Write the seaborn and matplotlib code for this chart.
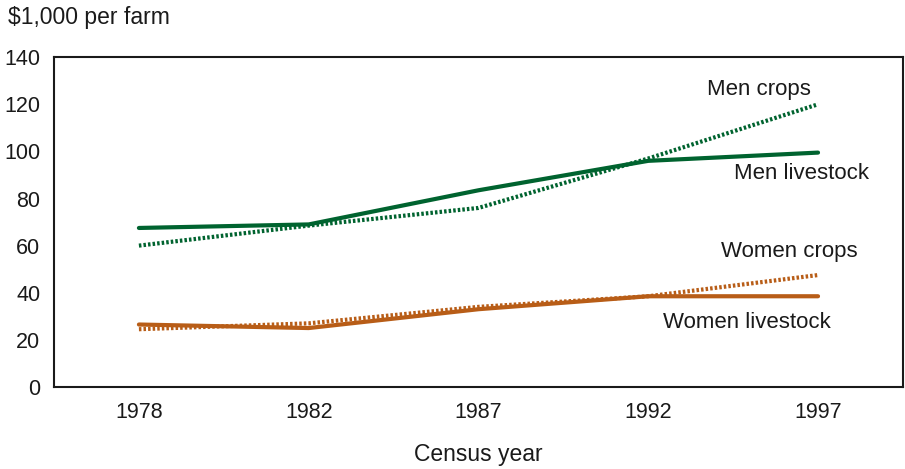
import matplotlib
matplotlib.use("Agg")
import matplotlib.pyplot as plt
import numpy as np
import pandas as pd
import seaborn as sns

# Data ($1,000 per farm)
years = ["1978", "1982", "1987", "1992", "1997"]
men_livestock = [67.5, 69, 83.5, 96, 99.5]
men_crops = [60, 68.5, 76, 97, 120]
women_crops = [24.5, 27, 34, 38.5, 47.5]
women_livestock = [26.5, 25, 33, 38.5, 38.5]

green = "#00632f"
orange = "#b85d17"


def main():
    sns.set_theme(style="white")
    plt.rcParams["font.family"] = ["Liberation Sans", "DejaVu Sans"]

    pos = np.arange(len(years))
    df = pd.DataFrame({
        "pos": pos,
        "men_livestock": men_livestock,
        "men_crops": men_crops,
        "women_crops": women_crops,
        "women_livestock": women_livestock,
    })

    fig = plt.figure(figsize=(9.05, 4.69), dpi=100)
    ax = fig.add_axes([0.0597, 0.175, 0.938, 0.703])

    dots = (0, (0.6, 0.5))
    sns.lineplot(data=df, x="pos", y="men_livestock", color=green, linewidth=3, ax=ax)
    sns.lineplot(data=df, x="pos", y="men_crops", color=green, linewidth=3,
                 linestyle=dots, ax=ax)
    sns.lineplot(data=df, x="pos", y="women_crops", color=orange, linewidth=3,
                 linestyle=dots, ax=ax)
    sns.lineplot(data=df, x="pos", y="women_livestock", color=orange, linewidth=3, ax=ax)

    ax.set_xlim(-0.5, 4.5)
    ax.set_ylim(0, 140)
    ax.set_xticks(pos)
    ax.set_xticklabels(years)
    ax.set_yticks(range(0, 141, 20))

    for s in ax.spines.values():
        s.set_visible(True)
        s.set_color("#1a1a1a")
        s.set_linewidth(1.5)

    ax.tick_params(axis="both", length=6, width=1.2, color="#666666",
                   labelsize=15.5, labelcolor="#1a1a1a")
    ax.tick_params(axis="y", direction="in", pad=10)
    ax.tick_params(axis="x", direction="out", pad=5)

    ax.set_xlabel("Census year", fontsize=16.5, color="#1a1a1a", labelpad=14)
    ax.set_ylabel("")

    fig.text(0.009, 0.963, "\\$1,000 per farm", fontsize=16.5, color="#1a1a1a",
             ha="left", va="center")

    label_kw = dict(fontsize=16, color="#1a1a1a", ha="center", va="center")
    ax.text(3.65, 126.5, "Men crops", **label_kw)
    ax.text(3.90, 90.5, "Men livestock", **label_kw)
    ax.text(3.83, 57.5, "Women crops", **label_kw)
    ax.text(3.58, 27.5, "Women livestock", **label_kw)

    fig.savefig("out.png", dpi=100)


if __name__ == "__main__":
    main()
